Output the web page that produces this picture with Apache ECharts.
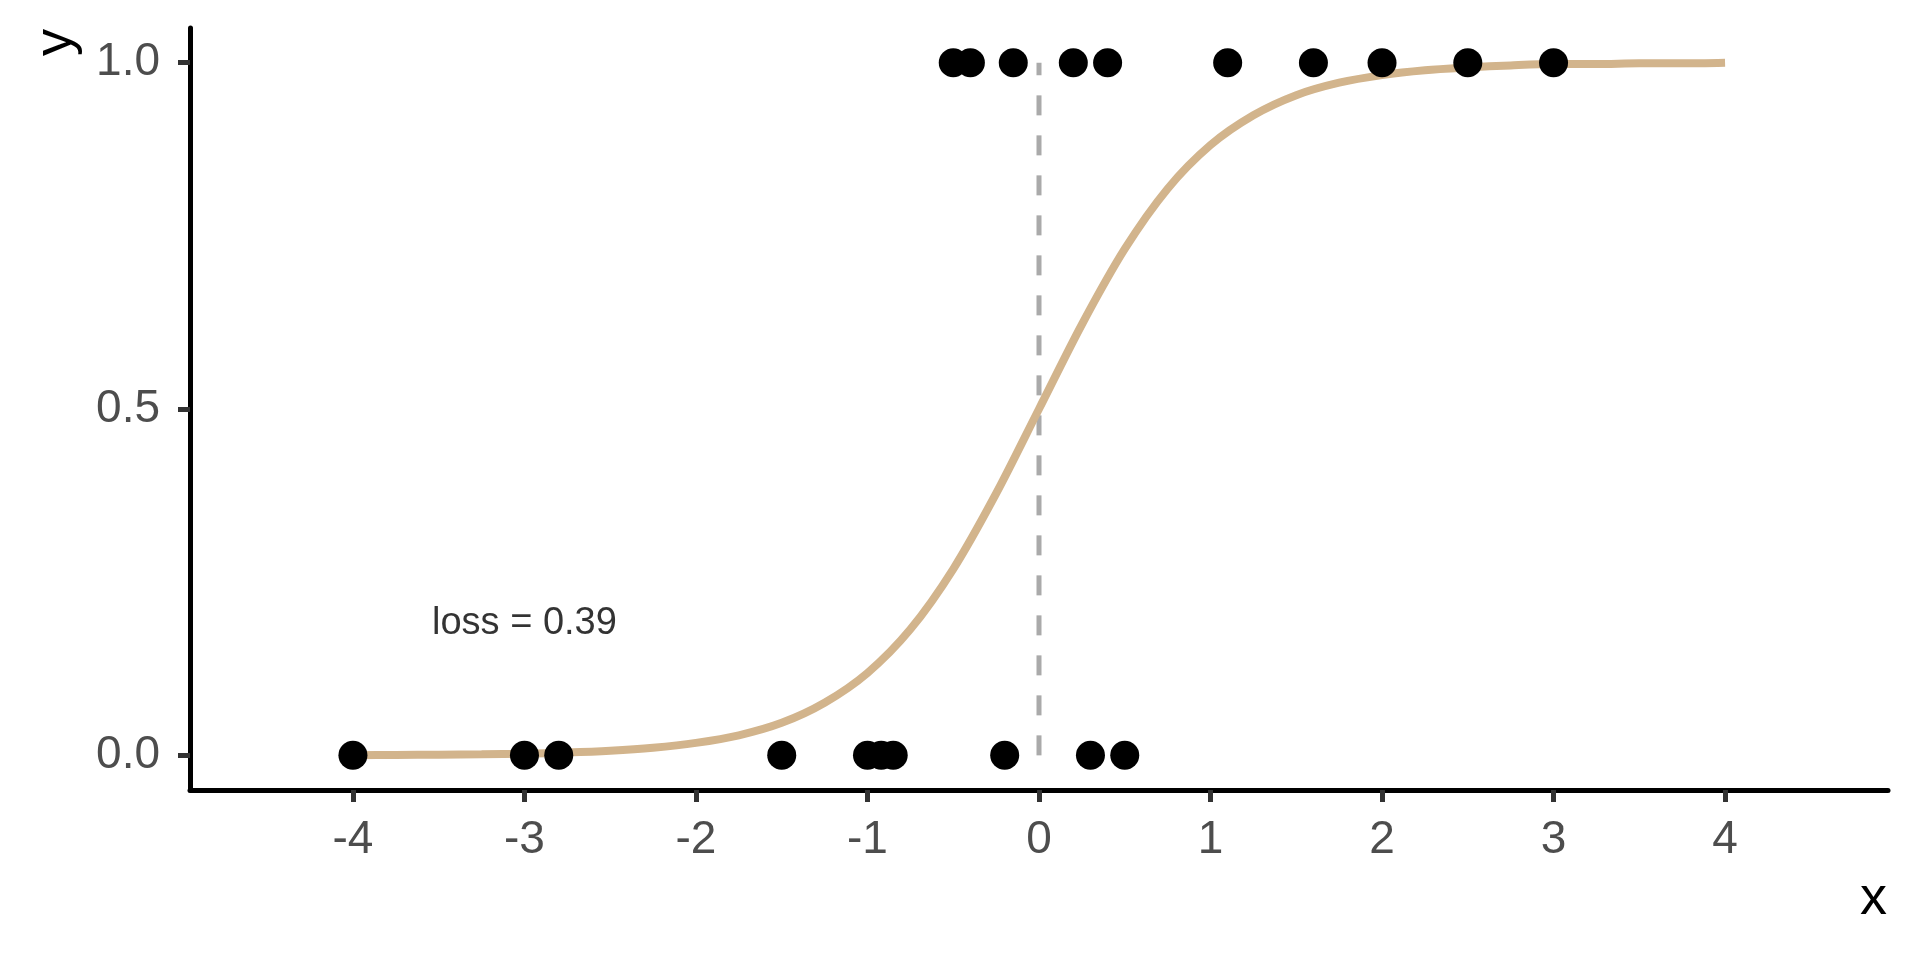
<!DOCTYPE html>
<html>
<head>
<meta charset="utf-8">
<script src="https://cdn.jsdelivr.net/npm/echarts@6/dist/echarts.min.js"></script>
<style>
html,body{margin:0;padding:0;background:#fff;}
#chart{width:1920px;height:960px;}
</style>
</head>
<body>
<div id="chart"></div>
<script>
// Observed points (x, class label)
const pointsX1 = [-0.5, -0.4, -0.15, 0.2, 0.4, 1.1, 1.6, 2.0, 2.5, 3.0];
const pointsX0 = [-4, -3, -2.8, -1.5, -1.0, -0.92, -0.85, -0.2, 0.3, 0.5];

// Fitted curve
const curveX = [-4, -3.75, -3.5, -3.25, -3, -2.75, -2.5, -2.25, -2, -1.75, -1.5, -1.25, -1, -0.75, -0.5, -0.25,
  0, 0.25, 0.5, 0.75, 1, 1.25, 1.5, 1.75, 2, 2.25, 2.5, 2.75, 3, 3.25, 3.5, 3.75, 4];
const curveY = [0.0003, 0.0006, 0.0009, 0.0015, 0.0025, 0.0041, 0.0067, 0.011, 0.018, 0.029, 0.047, 0.076, 0.119, 0.182, 0.269, 0.378,
  0.5, 0.622, 0.731, 0.818, 0.881, 0.924, 0.953, 0.971, 0.982, 0.989, 0.993, 0.996, 0.998, 0.998, 0.999, 0.999, 1.0];

// Decision boundary
const boundaryX = 0;
const boundaryY = [0, 1];

// Annotation
const lossText = 'loss = 0.39';
const lossPos = [-3, 0.19];

// Ticks
const xTicks = [-4, -3, -2, -1, 0, 1, 2, 3, 4];
const yTicks = [0, 0.5, 1];
const yTickLabels = ['0.0', '0.5', '1.0'];

const FONT = "'Liberation Sans', Arial, sans-serif";

const pointData = pointsX1.map(x => [x, 1]).concat(pointsX0.map(x => [x, 0]));
const curveData = curveX.map((x, i) => [x, curveY[i]]);
const boundaryData = boundaryY.map(y => [boundaryX, y]);

const chart = echarts.init(document.getElementById('chart'), null, {renderer: 'canvas'});
chart.setOption({
  animation: false,
  backgroundColor: '#ffffff',
  grid: {left: 190, right: 32, top: 28, bottom: 170, containLabel: false},
  xAxis: {
    type: 'value', min: -4.95, max: 4.95,
    splitLine: {show: false},
    axisLine: {onZero: false, lineStyle: {color: '#000000', width: 5}},
    axisTick: {customValues: xTicks, length: 12, lineStyle: {color: '#333333', width: 5}},
    axisLabel: {customValues: xTicks, fontSize: 46, color: '#4D4D4D', fontFamily: FONT, margin: 27,
      formatter: v => String(v)}
  },
  yAxis: {
    type: 'value', min: -0.05, max: 1.05,
    splitLine: {show: false},
    axisLine: {onZero: false, lineStyle: {color: '#000000', width: 5}},
    axisTick: {customValues: yTicks, length: 12, lineStyle: {color: '#333333', width: 5}},
    axisLabel: {customValues: yTicks, fontSize: 46, color: '#4D4D4D', fontFamily: FONT, margin: 30,
      formatter: v => yTickLabels[yTicks.indexOf(v)] !== undefined ? yTickLabels[yTicks.indexOf(v)] : String(v)}
  },
  series: [
    {
      type: 'line', data: boundaryData, symbol: 'none', z: 1,
      lineStyle: {color: '#AAAAAA', width: 5, type: [20, 20], cap: 'butt'}
    },
    {
      type: 'line', data: curveData, symbol: 'none', smooth: 0.3, z: 2,
      lineStyle: {color: '#D2B48C', width: 8}
    },
    {
      type: 'scatter', data: pointData, symbol: 'circle', symbolSize: 29, z: 3,
      itemStyle: {color: '#000000', opacity: 1}
    },
    {
      type: 'scatter', data: [lossPos], symbolSize: 0, z: 4,
      label: {show: true, position: 'inside', formatter: lossText, fontSize: 38, color: '#000000', fontFamily: FONT}
    }
  ],
  graphic: [
    {type: 'text', x: 1887, y: 899, style: {text: 'x', fontSize: 54, fill: '#000000', fontFamily: FONT, textAlign: 'right', textVerticalAlign: 'middle'}},
    {type: 'text', x: 56, y: 29, rotation: Math.PI / 2, style: {text: 'y', fontSize: 54, fill: '#000000', fontFamily: FONT, textAlign: 'right', textVerticalAlign: 'middle'}}
  ]
});
</script>
</body>
</html>
